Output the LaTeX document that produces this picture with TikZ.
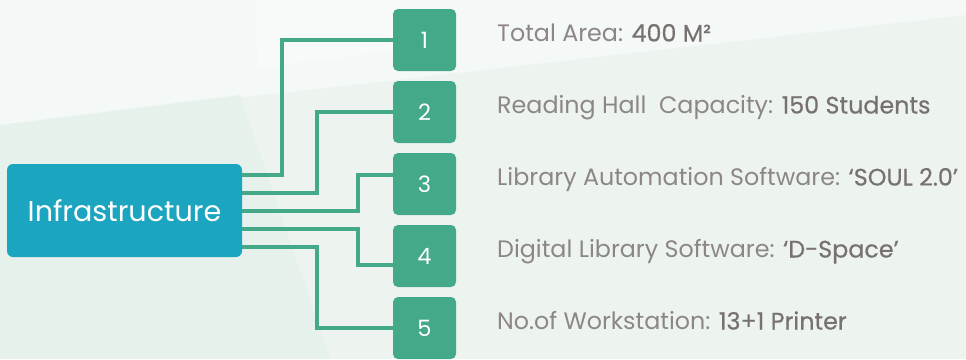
\documentclass[tikz,border=0pt]{standalone}
\usepackage{fontspec}
\setmainfont{Poppins}
\newfontfamily\popval{Poppins}[FakeBold=0.5]
\usetikzlibrary{calc}
\definecolor{bgbase}{HTML}{EDF4F0}
\definecolor{bglight}{HTML}{F4F8F6}
\definecolor{bgwhite}{HTML}{F8FAF9}
\definecolor{bggreen}{HTML}{E7F1EB}
\definecolor{infrablue}{HTML}{1BA5C1}
\definecolor{boxgreen}{HTML}{43A989}
\definecolor{labgray}{HTML}{8C8786}
\definecolor{valgray}{HTML}{777170}
\tikzset{
  infrabox/.style={fill=infrablue, rounded corners=6pt, minimum width=235pt, minimum height=93pt, inner sep=0pt, text=white, font=\fontsize{28.6}{32}\selectfont},
  numbox/.style={fill=boxgreen, rounded corners=5pt, minimum width=63pt, minimum height=62pt, inner sep=0pt, text=white, font=\fontsize{22.5}{26}\selectfont},
  conn/.style={draw=boxgreen, line width=4.5pt},
  lab/.style={anchor=base west, inner sep=0pt, text=labgray, font=\fontsize{23.8}{27}\selectfont},
}
\newcommand{\valtxt}[1]{{\popval\color{valgray}#1}}
\begin{document}
\begin{tikzpicture}[x=1pt,y=-1pt]
\useasboundingbox (0,0) rectangle (966,359);
% background
\fill[bgbase] (0,0) rectangle (966,359);
\fill[bglight] (0,0) -- (966,0) -- (966,15) -- (0,125) -- cycle;
\fill[bgwhite] (255,0) -- (400,0) -- (400,50) -- (258,68) -- cycle;
\fill[bggreen] (0,125) -- (240,95) -- (330,359) -- (0,359) -- cycle;
% nodes
\node[infrabox] (infra) at (124.5,210.5) {Infrastructure};
\node[numbox] (b1) at (424.5,40) {1};
\node[numbox] (b2) at (424.5,112) {2};
\node[numbox] (b3) at (424.5,184) {3};
\node[numbox] (b4) at (424.5,256) {4};
\node[numbox] (b5) at (424.5,328) {5};
% connectors
\draw[conn] ([yshift=35.5pt]infra.east) -| ([xshift=-111pt]b1.west) -- (b1.west);
\draw[conn] ([yshift=17.5pt]infra.east) -| ([xshift=-76pt]b2.west) -- (b2.west);
\draw[conn] ([yshift=-0.5pt]infra.east) -| ([xshift=-35pt,yshift=9pt]b3.west) -- ([yshift=9pt]b3.west);
\draw[conn] ([yshift=-18.5pt]infra.east) -| ([xshift=-35pt,yshift=-9pt]b4.west) -- ([yshift=-9pt]b4.west);
\draw[conn] ([yshift=-36.5pt]infra.east) -| ([xshift=-76pt]b5.west) -- (b5.west);
% labels
\node[lab] (t1) at (497,41.5) {Total Area: \valtxt{400 M²}};
\node[lab] (t2) at (497,113.5) {Reading Hall\ \ Capacity: \valtxt{150 Students}};
\node[lab] (t3) at (497,185.5) {Library Automation Software: \valtxt{‘SOUL 2.0’}};
\node[lab] (t4) at (497,257.5) {Digital Library Software: \valtxt{‘D-Space’}};
\node[lab] (t5) at (497,329.5) {No.of Workstation: \valtxt{13+1 Printer}};
\end{tikzpicture}
\end{document}
